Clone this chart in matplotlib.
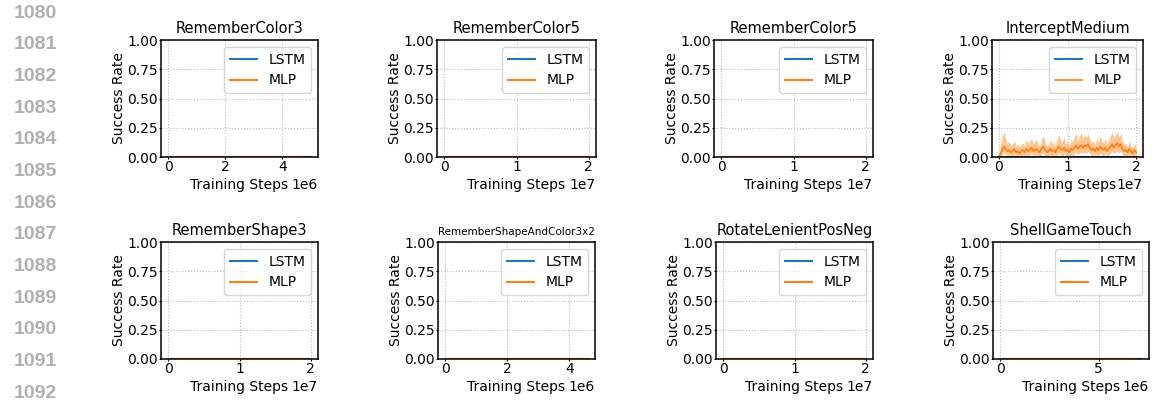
import numpy as np
import matplotlib
matplotlib.use("Agg")
import matplotlib.pyplot as plt

# panel titles, row by row
titles = ["RememberColor3", "RememberColor5", "RememberColor5", "InterceptMedium",
          "RememberShape3", "RememberShapeAndColor3x2", "RotateLenientPosNeg", "ShellGameTouch"]
# training length of each run (steps)
lstm_end = [5.0e6, 2.0e7, 2.0e7, 2.0e7, 2.0e7, 4.6e6, 2.0e7, 7.2e6]
mlp_end = [4.7e6, 2.0e7, 2.0e7, 2.0e7, 2.0e7, 4.6e6, 2.0e7, 6.8e6]

# InterceptMedium MLP curve (the only non-zero one), 81 checkpoints over 2e7 steps
im_steps = np.linspace(0, 2.0e7, 81)
im_mean = [0.00, 0.03, 0.06, 0.09, 0.07, 0.05, 0.06, 0.04, 0.05, 0.07,
           0.04, 0.05, 0.03, 0.05, 0.06, 0.04, 0.07, 0.05, 0.06, 0.08,
           0.05, 0.06, 0.07, 0.05, 0.04, 0.08, 0.09, 0.06, 0.04, 0.05,
           0.07, 0.05, 0.06, 0.04, 0.07, 0.09, 0.07, 0.06, 0.08, 0.05,
           0.06, 0.04, 0.07, 0.06, 0.08, 0.10, 0.07, 0.09, 0.10, 0.08,
           0.10, 0.09, 0.11, 0.08, 0.06, 0.07, 0.05, 0.08, 0.06, 0.09,
           0.07, 0.06, 0.08, 0.05, 0.07, 0.09, 0.11, 0.08, 0.10, 0.12,
           0.09, 0.11, 0.07, 0.05, 0.06, 0.04, 0.07, 0.05, 0.03, 0.06, 0.04]
im_upper = [0.00, 0.10, 0.18, 0.22, 0.15, 0.12, 0.13, 0.10, 0.11, 0.14,
            0.09, 0.11, 0.08, 0.11, 0.12, 0.10, 0.15, 0.11, 0.13, 0.16,
            0.11, 0.13, 0.15, 0.11, 0.09, 0.16, 0.18, 0.12, 0.09, 0.11,
            0.15, 0.11, 0.13, 0.09, 0.15, 0.19, 0.15, 0.13, 0.17, 0.11,
            0.13, 0.09, 0.15, 0.13, 0.17, 0.20, 0.14, 0.18, 0.21, 0.16,
            0.19, 0.17, 0.20, 0.15, 0.12, 0.14, 0.10, 0.16, 0.12, 0.18,
            0.14, 0.12, 0.16, 0.10, 0.15, 0.18, 0.21, 0.16, 0.19, 0.22,
            0.17, 0.20, 0.14, 0.10, 0.12, 0.09, 0.14, 0.10, 0.07, 0.12, 0.08]
im_lower = [0.00, 0.00, 0.02, 0.04, 0.02, 0.01, 0.02, 0.00, 0.01, 0.02,
            0.00, 0.01, 0.00, 0.01, 0.02, 0.00, 0.02, 0.01, 0.01, 0.03,
            0.01, 0.01, 0.02, 0.01, 0.00, 0.03, 0.03, 0.01, 0.00, 0.01,
            0.02, 0.01, 0.02, 0.00, 0.02, 0.03, 0.02, 0.01, 0.03, 0.01,
            0.01, 0.00, 0.02, 0.01, 0.03, 0.04, 0.02, 0.03, 0.04, 0.03,
            0.04, 0.03, 0.05, 0.03, 0.01, 0.02, 0.00, 0.03, 0.01, 0.03,
            0.02, 0.01, 0.03, 0.01, 0.02, 0.03, 0.05, 0.03, 0.04, 0.05,
            0.03, 0.05, 0.02, 0.01, 0.01, 0.00, 0.02, 0.01, 0.00, 0.01, 0.00]

line_numbers = list(range(1080, 1093))

W, H = 1153, 400
fig = plt.figure(figsize=(W / 100, H / 100), dpi=100)

# axes boxes in pixels: (left, right) per panel, (top, bottom) per row
cols = [[(161, 318), (437, 596), (714, 873), (992, 1143)],
        [(161, 318), (438, 595), (716, 873), (993, 1149)]]
rows = [(40, 157), (242, 359)]

for i, title in enumerate(titles):
    r, c = divmod(i, 4)
    l, rt = cols[r][c]
    t, b = rows[r]
    ax = fig.add_axes([l / W, 1 - b / H, (rt - l) / W, (b - t) / H])

    if title == "InterceptMedium":
        ax.plot([0, lstm_end[i]], [0, 0], color="tab:blue", label="LSTM", zorder=1)
        ax.fill_between(im_steps, im_lower, im_upper, color="tab:orange", alpha=0.45, lw=0, zorder=1.5)
        ax.plot(im_steps, im_mean, color="tab:orange", lw=1.2, label="MLP")
    else:
        ax.plot([0, lstm_end[i]], [0, 0], color="tab:blue", label="LSTM")
        ax.plot([0, mlp_end[i]], [0, 0], color="tab:orange", label="MLP")

    ax.set_ylim(0, 1)
    ax.set_yticks([0, 0.25, 0.5, 0.75, 1.0])
    ax.grid(True, linestyle=":", color="#bbbbbb", lw=0.8)
    for s in ax.spines.values():
        s.set_linewidth(1.1)
    ax.tick_params(labelsize=10, length=1.5, pad=0.8)
    ax.set_ylabel("Success Rate", fontsize=10, labelpad=1)
    ax.set_xlabel("Training Steps", fontsize=10, labelpad=3)
    ax.xaxis.get_offset_text().set_fontsize(10)
    ax.set_title(title, fontsize=7.5 if len(title) > 20 else 10.5, pad=5)
    ax.legend(loc="upper right", fontsize=10)

# page line numbers down the left margin
for k, n in enumerate(line_numbers):
    fig.text(57 / W, 1 - (13 + k * 31.7) / H, str(n), ha="right", va="center",
             fontsize=14, color="#b0b0b0", family="Liberation Sans", fontweight="bold")

fig.savefig("out.png", dpi=100)
